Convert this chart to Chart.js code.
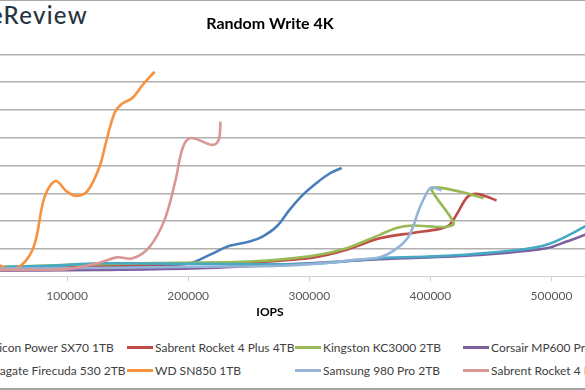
<!DOCTYPE html>
<html>
<head>
<meta charset="utf-8">
<title>Random Write 4K</title>
<script src="https://cdn.jsdelivr.net/npm/chart.js@4/dist/chart.umd.min.js"></script>
<style>
  html, body { margin: 0; padding: 0; background: #fff; }
  #frame {
    position: relative; width: 585px; height: 390px; overflow: hidden;
    font-family: Lato, "Open Sans", sans-serif;
  }
  #topLine, #bottomLine { position: absolute; left: 0; width: 585px; height: 1px; background: #a6a6a6; }
  #topLine { top: 0; }
  #bottomLine { top: 388px; height: 2px; }
  #logo {
    position: absolute; top: 0; right: 497px; white-space: nowrap;
    font: 500 24px Lato, sans-serif; color: #263440; letter-spacing: 1.3px;
  }
  #chartBox { position: absolute; left: -54px; top: 0; width: 648px; height: 324px; }
  #legend {
    position: absolute; left: -41px; top: 340px;
    display: grid; grid-template-columns: repeat(4, 168px); row-gap: 8px;
    font: 12px Lato, sans-serif; color: #404040;
  }
  #legend .item { display: flex; align-items: center; height: 15px; white-space: nowrap; }
  #legend .swatch { flex: none; width: 26px; height: 3px; margin-right: 2px; }
</style>
</head>
<body>
<div id="frame">
  <div id="topLine"></div>
  <div id="logo">StorageReview</div>
  <div id="chartBox"><canvas id="chart"></canvas></div>
  <div id="legend"></div>
  <div id="bottomLine"></div>
</div>
<script>
/* ── Data (IOPS vs average latency in ms) ───────────────────────────────── */
const seriesNames  = ['Silicon Power SX70 1TB', 'Sabrent Rocket 4 Plus 4TB', 'Kingston KC3000 2TB', 'Corsair MP600 Pro 2TB',
                      'Seagate Firecuda 530 2TB', 'WD SN850 1TB', 'Samsung 980 Pro 2TB', 'Sabrent Rocket 4 Plus 2TB'];
const seriesColors = ['#4A7EBB', '#BE4B48', '#98B954', '#7D60A0', '#46AAC5', '#F69240', '#95B3D7', '#D99694'];

const sx70Iops = [36000, 85500, 143400, 184600, 201200, 217700, 234200, 250700, 261400, 273000, 283700, 294600, 306000, 316800, 326700];
const sx70Lat  = [0.063, 0.070, 0.077, 0.084, 0.095, 0.156, 0.221, 0.252, 0.288, 0.360, 0.480, 0.588, 0.674, 0.742, 0.782];

const rocket4p4Iops = [28100, 77300, 126800, 192900, 250700, 302700, 330800, 358100, 385300, 407600, 415800, 422400, 430600, 438100, 446300, 454600];
const rocket4p4Lat  = [0.055, 0.063, 0.077, 0.091, 0.101, 0.135, 0.192, 0.275, 0.314, 0.343, 0.372, 0.458, 0.573, 0.595, 0.576, 0.547];

const kc3000Iops = [28100, 77300, 126800, 192900, 250700, 300200, 330800, 358100, 372100, 385300, 399300, 413400, 419200, 401000, 405100, 429900, 443900];
const kc3000Lat  = [0.063, 0.077, 0.089, 0.099, 0.108, 0.145, 0.204, 0.300, 0.350, 0.367, 0.361, 0.358, 0.386, 0.624, 0.642, 0.600, 0.564];

const mp600Iops = [28100, 126800, 209400, 300200, 358100, 440600, 495900, 512400, 527300, 547900];
const mp600Lat  = [0.041, 0.048, 0.060, 0.096, 0.124, 0.156, 0.204, 0.252, 0.300, 0.394];

const firecudaIops = [28100, 85500, 126800, 209400, 300200, 358100, 413400, 467900, 495900, 527300, 543800];
const firecudaLat  = [0.066, 0.077, 0.095, 0.091, 0.091, 0.132, 0.149, 0.187, 0.228, 0.360, 0.465];

const sn850Iops = [39300, 56600, 71500, 81400, 90500, 99600, 107800, 116900, 126800, 132600, 139200, 145000, 154100, 162400, 172300];
const sn850Lat  = [0.099, 0.055, 0.192, 0.573, 0.688, 0.613, 0.581, 0.617, 0.791, 0.983, 1.178, 1.242, 1.288, 1.381, 1.475];

const pro980Iops = [28100, 85500, 143400, 209400, 275500, 316800, 337400, 358100, 372900, 382800, 391100, 398500, 401800, 409200];
const pro980Lat  = [0.055, 0.059, 0.063, 0.070, 0.077, 0.099, 0.120, 0.138, 0.206, 0.300, 0.494, 0.624, 0.642, 0.620];

const rocket4Iops = [36000, 69000, 102100, 126800, 140900, 154100, 168100, 180500, 189600, 195400, 201900, 220100, 225200, 226700];
const rocket4Lat  = [0.048, 0.048, 0.055, 0.099, 0.138, 0.131, 0.214, 0.408, 0.696, 0.926, 0.998, 0.948, 0.984, 1.115];

const xTicks = [100000, 200000, 300000, 400000, 500000];

const seriesIops = [sx70Iops, rocket4p4Iops, kc3000Iops, mp600Iops, firecudaIops, sn850Iops, pro980Iops, rocket4Iops];
const seriesLat  = [sx70Lat, rocket4p4Lat, kc3000Lat, mp600Lat, firecudaLat, sn850Lat, pro980Lat, rocket4Lat];

/* ── Chart ──────────────────────────────────────────────────────────────── */
const datasets = seriesNames.map((name, i) => ({
  label: name,
  data: seriesIops[i].map((x, j) => ({ x, y: seriesLat[i][j] })),
  borderColor: seriesColors[i],
  backgroundColor: seriesColors[i],
  borderWidth: 2.6,
  pointRadius: 0,
  tension: 0.35,
  fill: false,
  order: seriesNames.length - i,   // later series on top, like the original
}));

new Chart(document.getElementById('chart'), {
  type: 'line',
  data: { datasets },
  options: {
    responsive: true,
    maintainAspectRatio: false,
    animation: false,
    layout: { padding: 0 },
    plugins: {
      legend: { display: false },
      tooltip: { enabled: false },
      title: {
        display: true,
        text: 'Random Write 4K',
        color: '#000',
        font: { family: 'Lato', size: 16, weight: 'bold' },
        padding: { top: 14.5, bottom: 20.7 },
      },
    },
    scales: {
      x: {
        type: 'linear',
        min: 0,
        max: 535100,
        afterBuildTicks: scale => { scale.ticks = xTicks.map(v => ({ value: v })); },
        ticks: {
          color: '#595959',
          font: { family: 'Lato', size: 12 },
          padding: 7,
          maxRotation: 0,
          callback: v => String(v),
        },
        grid: { drawOnChartArea: false, drawTicks: true, tickLength: 5, color: '#d0d0d0' },
        border: { display: true, color: '#d0d0d0', width: 1 },
        title: {
          display: true,
          text: 'IOPS',
          color: '#000',
          font: { family: 'Lato', size: 12, weight: 'bold' },
          padding: { top: -5.3, bottom: 5 },
        },
      },
      y: {
        min: 0,
        max: 1.6,
        ticks: { display: false, stepSize: 0.2 },
        grid: {
          drawTicks: false,
          lineWidth: 1.4,
          color: ctx => (ctx.tick && ctx.tick.value === 0 ? 'rgba(0,0,0,0)' : '#b0b0b0'),
        },
        border: { display: false },
      },
    },
  },
});

/* ── Legend ─────────────────────────────────────────────────────────────── */
document.getElementById('legend').innerHTML = seriesNames.map((n, i) => `
  <div class="item"><span class="swatch" style="background:${seriesColors[i]}"></span>${n}</div>
`).join('');
</script>
</body>
</html>
